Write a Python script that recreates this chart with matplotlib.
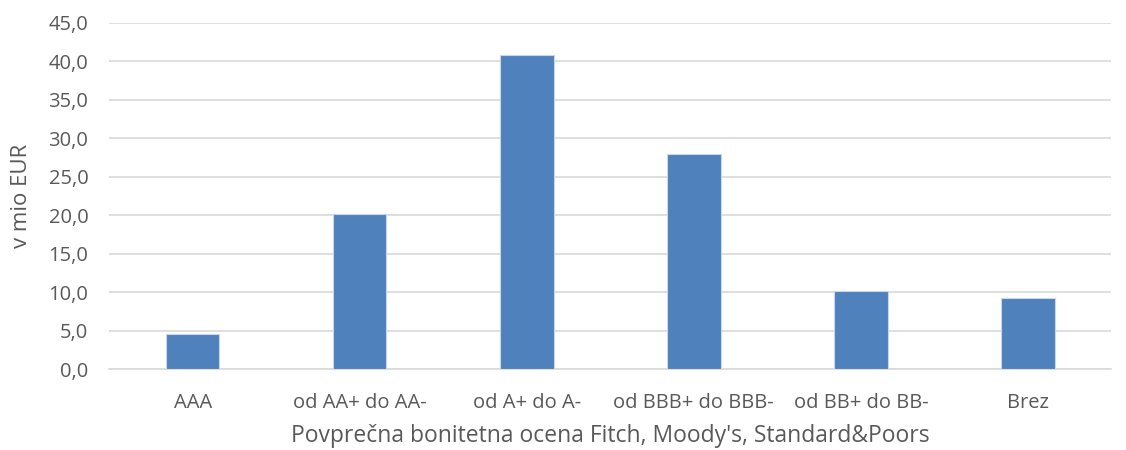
import matplotlib.pyplot as plt
from matplotlib.ticker import FuncFormatter

# Data
categories = ['AAA', 'od AA+ do AA-', 'od A+ do A-', 'od BBB+ do BBB-', 'od BB+ do BB-', 'Brez']
values = [4.5, 20.2, 40.8, 28.0, 10.2, 9.2]

plt.rcParams['font.family'] = ['Open Sans', 'DejaVu Sans']

fig = plt.figure(figsize=(11.26, 4.5), dpi=100)
ax = fig.add_axes([0.097, 0.18, 0.89, 0.769])

x = range(len(categories))
ax.bar(x, values, width=0.32, color='#4F81BD', edgecolor='#C9D6EA', linewidth=0.8, zorder=3)

ax.set_xlim(-0.5, len(categories) - 0.5)
ax.set_ylim(0, 45)
ax.set_yticks(range(0, 46, 5))
ax.yaxis.set_major_formatter(FuncFormatter(lambda v, p: f"{v:.1f}".replace('.', ',')))
ax.set_xticks(list(x))
ax.set_xticklabels(categories)

ax.grid(axis='y', color='#D9D9D9', linewidth=1.2, zorder=0)
for s in ['top', 'right', 'left']:
    ax.spines[s].set_visible(False)
ax.spines['bottom'].set_color('#D9D9D9')
ax.spines['bottom'].set_linewidth(1.2)
ax.tick_params(axis='both', length=0, labelsize=14.5, colors='#595959')
ax.tick_params(axis='y', pad=15)
ax.tick_params(axis='x', pad=17)

ax.set_ylabel('v mio EUR', fontsize=16, color='#595959', labelpad=12)
ax.set_xlabel("Povprečna bonitetna ocena Fitch, Moody's, Standard&Poors", fontsize=16.5, color='#595959', labelpad=8)

plt.savefig('out.png', dpi=100)
